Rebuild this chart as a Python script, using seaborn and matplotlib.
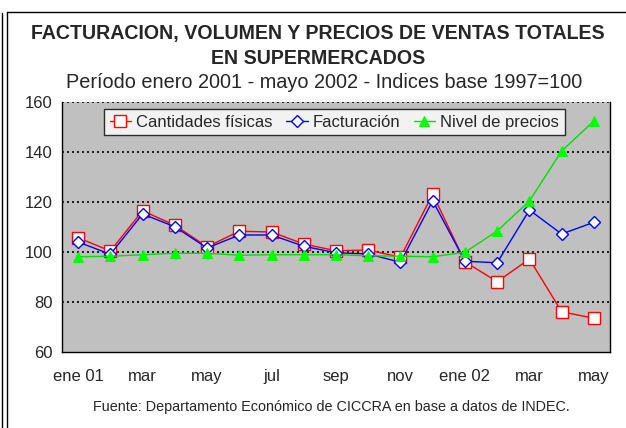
import matplotlib
matplotlib.use("Agg")
import matplotlib.pyplot as plt
from matplotlib.lines import Line2D
import seaborn as sns
import pandas as pd

meses = ["ene 01", "feb", "mar", "abr", "may", "jun", "jul", "ago", "sep",
         "oct", "nov", "dic", "ene 02", "feb", "mar", "abr", "may"]
cantidades = [105.7, 100.4, 116.5, 110.7, 102.1, 108.3, 108.0, 103.2, 100.5,
              100.8, 97.9, 123.2, 96.1, 88.1, 97.2, 76.1, 73.5]
facturacion = [104.0, 99.1, 115.2, 110.1, 101.6, 106.8, 106.8, 102.3, 99.7,
               99.2, 95.9, 120.5, 96.3, 95.7, 116.8, 107.2, 111.9]
precios = [98.1, 98.3, 98.9, 99.5, 99.5, 98.7, 98.9, 98.9, 98.9,
           98.5, 98.3, 98.1, 99.9, 108.4, 120.4, 140.4, 152.4]

df = pd.DataFrame({"mes": range(len(meses)),
                   "Cantidades físicas": cantidades,
                   "Facturación": facturacion,
                   "Nivel de precios": precios})

sns.set_style("white")
plt.rcParams["font.family"] = ["Liberation Sans", "DejaVu Sans"]

fig = plt.figure(figsize=(6.26, 4.28), dpi=100)
ax = fig.add_axes([62 / 626, 1 - 352 / 428, 548 / 626, 250 / 428])
ax.set_facecolor("#c0c0c0")

sns.lineplot(data=df, x="mes", y="Cantidades físicas", ax=ax, color="#ff0000",
             lw=1, marker="s", markersize=8, markerfacecolor="white",
             markeredgecolor="#ff0000", markeredgewidth=1, label="Cantidades físicas")
sns.lineplot(data=df, x="mes", y="Facturación", ax=ax, color="#0000ff",
             lw=1, marker="D", markersize=6, markerfacecolor="white",
             markeredgecolor="#0000ff", markeredgewidth=1, label="Facturación")
sns.lineplot(data=df, x="mes", y="Nivel de precios", ax=ax, color="#00e000",
             lw=1, marker="^", markersize=7, markerfacecolor="#00ff00",
             markeredgecolor="#00ff00", label="Nivel de precios")

ax.set_xlim(-0.5, len(meses) - 0.5)
ax.set_ylim(60, 160)
ax.set_yticks(range(60, 161, 20))
ax.set_xticks(range(0, len(meses), 2))
ax.set_xticklabels([meses[i] for i in range(0, len(meses), 2)], fontsize=12)
ax.set_xticks([i - 0.5 for i in range(len(meses) + 1)], minor=True)
ax.tick_params(axis="x", which="major", length=0, pad=12)
ax.tick_params(axis="x", which="minor", length=5, direction="out", color="black", width=1)
ax.tick_params(axis="y", length=5, direction="out", color="black", width=1, labelsize=12, pad=2)
ax.set_xlabel("")
ax.set_ylabel("")

for y in range(80, 161, 20):
    ax.axhline(y, color="black", lw=1.2, ls=(0, (1.2, 1.8)), zorder=1)

for s in ["left", "bottom", "right"]:
    ax.spines[s].set_visible(True)
    ax.spines[s].set_color("black")
    ax.spines[s].set_linewidth(1)
ax.spines["top"].set_visible(False)

leg = ax.legend(loc="upper center", ncol=3, fontsize=12, frameon=True,
                fancybox=False, handlelength=1.3, handletextpad=0.3,
                columnspacing=0.8, borderpad=0.35, borderaxespad=0.4,
                bbox_to_anchor=(0.497, 1.0))
leg.get_frame().set_edgecolor("black")
leg.get_frame().set_facecolor("white")
leg.get_frame().set_linewidth(1)

fig.text(318 / 626, 1 - 39.5 / 428, "FACTURACION, VOLUMEN Y PRECIOS DE VENTAS TOTALES",
         ha="center", va="baseline", fontsize=14.1, fontweight="bold")
fig.text(318 / 626, 1 - 64.5 / 428, "EN SUPERMERCADOS",
         ha="center", va="baseline", fontsize=14.1, fontweight="bold")
fig.text(324 / 626, 1 - 88 / 428, "Período enero 2001 - mayo 2002 - Indices base 1997=100",
         ha="center", va="baseline", fontsize=14.3)
fig.text(331 / 626, 1 - 411 / 428,
         "Fuente: Departamento Económico de CICCRA en base a datos de INDEC.",
         ha="center", va="baseline", fontsize=10.4)

fig.add_artist(Line2D([2 / 626, 2 / 626], [0, 1 - 13 / 428], color="black", lw=1))
fig.add_artist(Line2D([7 / 626, 7 / 626], [0, 1 - 12 / 428], color="black", lw=1))
fig.add_artist(Line2D([7 / 626, 1], [1 - 12 / 428, 1 - 12 / 428], color="black", lw=1))

fig.savefig("out.png", dpi=100)
